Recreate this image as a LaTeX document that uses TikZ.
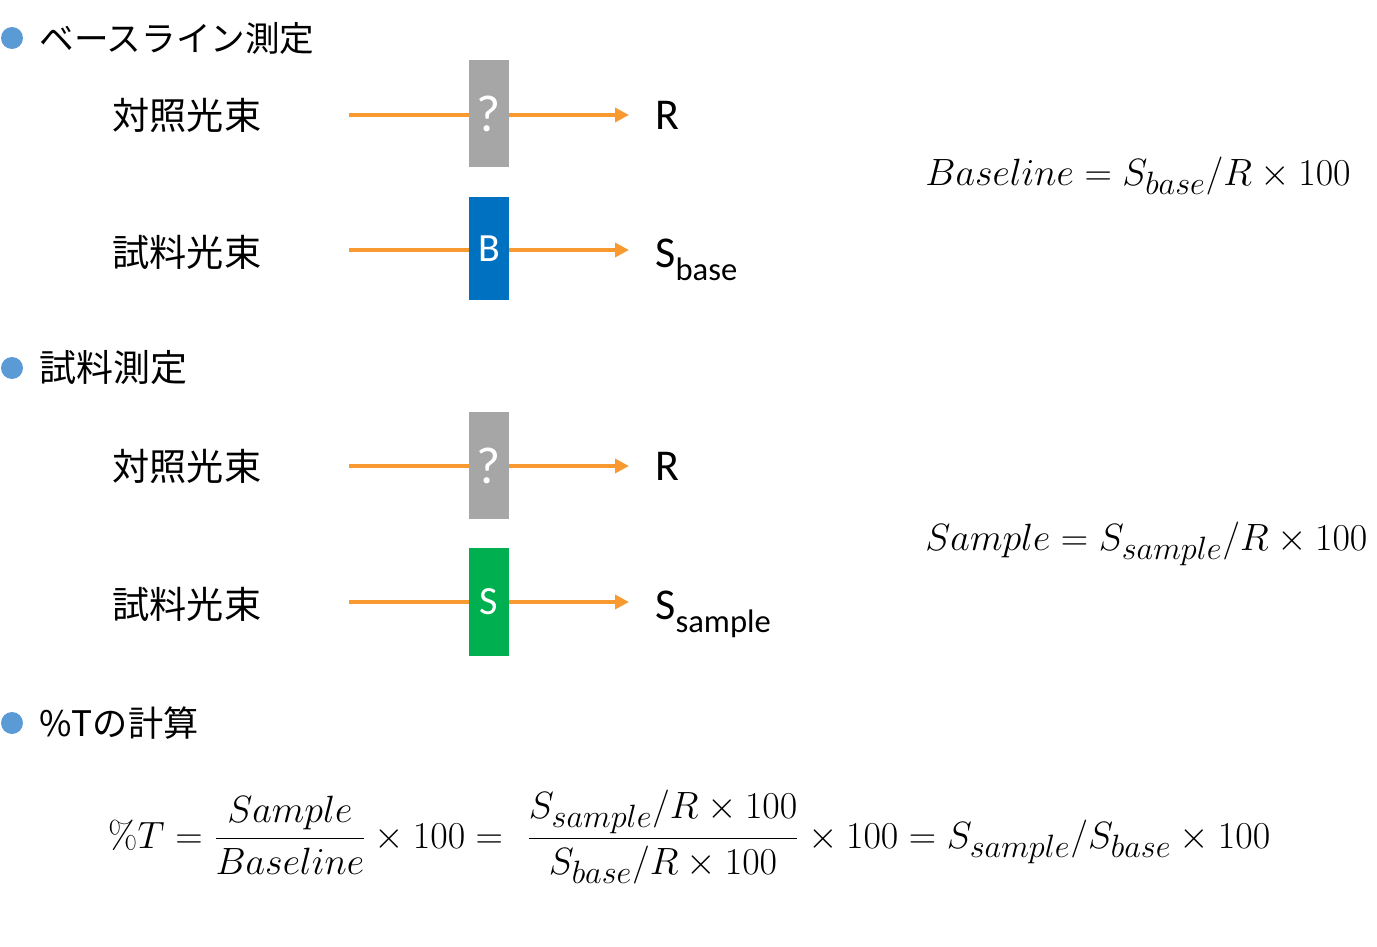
\RequirePackage{fix-cm}
\documentclass[tikz,border=0pt]{standalone}
\usepackage{fontspec}
\usepackage{amsmath}
\renewcommand{\defaultscriptratio}{.85}
\newfontfamily\jpfont{Noto Sans CJK JP}
\newfontfamily\carfont{Carlito}
\usetikzlibrary{arrows.meta}
\definecolor{beamc}{HTML}{F89A30}
\definecolor{bulc}{HTML}{5B9BD5}
\definecolor{grayc}{HTML}{A6A6A6}
\definecolor{bluec}{HTML}{0070C0}
\definecolor{greenc}{HTML}{00B050}
\tikzset{
  bul/.style={circle,fill=bulc,minimum size=11pt,inner sep=0},
  head/.style={anchor=west,inner sep=0,font=\jpfont\fontsize{18.5}{20}\selectfont},
  lab/.style={anchor=west,inner sep=0,font=\jpfont\fontsize{18.6}{20}\selectfont},
  filt/.style={minimum width=20pt,minimum height=53.5pt,inner sep=0,text=white,font=\carfont\fontsize{20}{22}\selectfont},
  qm/.style={font=\carfont\fontsize{26}{28}\selectfont},
  beam/.style={draw=beamc,line width=2pt},
  beamarr/.style={beam,-{Triangle[length=7pt,width=7pt]}},
  outl/.style={inner sep=0,font=\carfont\fontsize{22}{24}\selectfont},
  eq/.style={inner sep=0,font=\fontsize{19}{22}\selectfont},
}
\newcommand{\subtx}[1]{\raisebox{-6.5pt}{\fontsize{16.3}{18}\selectfont #1}}
\begin{document}
\begin{tikzpicture}[x=0.5pt,y=-0.5pt]
\useasboundingbox (0,0) rectangle (1377,947);
% heading 1
\node[bul] (bu1) at (12,38) {};
\node[head,font=\jpfont\fontsize{17.3}{20}\selectfont] (h1) at (39,38) {ベースライン測定};
% row 1
\node[lab] (l1) at (112,115) {対照光束};
\coordinate (s1) at (349,115);
\coordinate (t1) at (629,115);
\node[filt,qm,fill=grayc] (f1) at (489,114) {?};
\draw[beam] (s1) -- (f1.west |- s1);
\draw[beamarr] (f1.east |- s1) -- (t1);
\node[outl,anchor=west] (o1) at (655,115) {R};
% row 2
\node[lab] (l2) at (112,252) {試料光束};
\coordinate (s2) at (349,250);
\coordinate (t2) at (629,250);
\node[filt,fill=bluec,minimum height=51.5pt] (f2) at (489,248.5) {B};
\draw[beam] (s2) -- (f2.west |- s2);
\draw[beamarr] (f2.east |- s2) -- (t2);
\node[outl,anchor=base west] (o2) at (655,267) {S\subtx{base}};
% formula 1
\node[eq,anchor=base west] (e1) at (925,185) {$Baseline = S_{base}/R\times 100$};
% heading 2
\node[bul] (bu2) at (12,368) {};
\node[head] (h2) at (39,368) {試料測定};
% row 3
\node[lab] (l3) at (112,466) {対照光束};
\coordinate (s3) at (349,466);
\coordinate (t3) at (629,466);
\node[filt,qm,fill=grayc] (f3) at (489,465.5) {?};
\draw[beam] (s3) -- (f3.west |- s3);
\draw[beamarr] (f3.east |- s3) -- (t3);
\node[outl,anchor=west] (o3) at (655,466) {R};
% row 4
\node[lab] (l4) at (112,604) {試料光束};
\coordinate (s4) at (349,602);
\coordinate (t4) at (629,602);
\node[filt,fill=greenc,minimum height=54pt] (f4) at (489,602) {S};
\draw[beam] (s4) -- (f4.west |- s4);
\draw[beamarr] (f4.east |- s4) -- (t4);
\node[outl,anchor=base west] (o4) at (655,619) {S\subtx{sample}};
% formula 2
\node[eq,anchor=base west] (e2) at (925,550) {$Sample = S_{sample}/R\times 100$};
% heading 3
\node[bul] (bu3) at (12,723) {};
\node[head,font=\jpfont\fontsize{17.6}{20}\selectfont] (h3) at (39,723) {\%Tの計算};
% formula 3
\node[eq,anchor=base west] (e3) at (108,848) {$\displaystyle \%T = \frac{Sample}{Baseline}\times 100 = \,\,\frac{S_{sample}/R\times 100}{S_{base}/R\times 100}\times 100 = S_{sample}/S_{base}\times 100$};
\end{tikzpicture}
\end{document}
